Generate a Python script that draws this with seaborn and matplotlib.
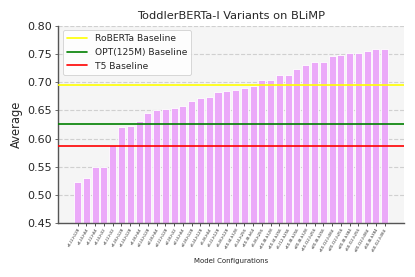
import matplotlib
matplotlib.use("Agg")
import matplotlib.pyplot as plt
import seaborn as sns
import pandas as pd

configs = [
    "e1-l2-h128", "e1-l4-h64", "e1-l2-h64", "e1-l4-h32", "e1-l2-h32", "e1-l8-h128",
    "e1-l4-h128", "e1-l8-h64", "e2-l4-h128", "e2-l8-h64", "e2-l2-h128", "e2-l8-h32",
    "e2-l4-h64", "e2-l8-h128", "e5-l4-h128", "e5-l8-h64", "e5-l2-h128", "e5-l8-h128",
    "e10-l4-h128", "e5-l4-h256", "e10-l8-h64", "e5-l8-h256", "e10-l8-h128", "e10-l4-h256",
    "e5-l12-h256", "e10-l8-h256", "e20-l8-h128", "e10-l12-h256", "e20-l8-h256", "e10-l12-h384",
    "e20-l12-h256", "e20-l8-h384", "e50-l12-h256", "e20-l12-h384", "e50-l8-h384", "e50-l12-h384",
]
averages = [
    0.523, 0.530, 0.549, 0.549, 0.589, 0.620,
    0.622, 0.631, 0.645, 0.650, 0.652, 0.654,
    0.657, 0.667, 0.672, 0.673, 0.683, 0.684,
    0.686, 0.690, 0.694, 0.704, 0.704, 0.712,
    0.713, 0.723, 0.730, 0.735, 0.736, 0.746,
    0.749, 0.752, 0.752, 0.755, 0.759, 0.759,
]
baseline_names = ["RoBERTa Baseline", "OPT(125M) Baseline", "T5 Baseline"]
baseline_values = [0.695, 0.6265, 0.5875]
baseline_colors = ["yellow", "green", "red"]

df = pd.DataFrame({"Model Configurations": configs, "Average": averages})

sns.set_style("whitegrid")
plt.rcParams["font.family"] = ["DejaVu Sans"]

fig = plt.figure(figsize=(4.15, 2.77), dpi=100)
ax = fig.add_axes([0.1405, 0.194, 0.833, 0.713])
ax.set_facecolor("#f5f5f5")

sns.barplot(data=df, x="Model Configurations", y="Average", color="#eba9f9",
            saturation=1, edgecolor="white", linewidth=0.6, width=0.8, ax=ax, zorder=2)

for name, val, col in zip(baseline_names, baseline_values, baseline_colors):
    ax.axhline(val, color=col, linewidth=1.2, label=name, zorder=3)

ax.set_ylim(0.45, 0.80)
ax.set_xlim(-2.2, len(configs) - 1 + 2.2)
ax.set_yticks([0.45, 0.50, 0.55, 0.60, 0.65, 0.70, 0.75, 0.80])
ax.yaxis.grid(True, linestyle="--", color="#d0d0d0", linewidth=0.8, zorder=0)
ax.xaxis.grid(False)
ax.set_axisbelow(True)

ax.tick_params(axis="y", labelsize=8, length=2.5, width=0.6, pad=2, left=True, color="#555555")
ax.tick_params(axis="x", labelsize=2.8, length=2, width=0.6, pad=1, bottom=True, color="#333333")
plt.setp(ax.get_xticklabels(), rotation=60, ha="right", rotation_mode="anchor")

for s in ["top", "right"]:
    ax.spines[s].set_visible(False)
for s in ["left", "bottom"]:
    ax.spines[s].set_color("#555555")
    ax.spines[s].set_linewidth(1.0)

ax.set_title("ToddlerBERTa-l Variants on BLiMP", fontsize=8.2, pad=5)
ax.set_ylabel("Average", fontsize=8.3, labelpad=3)
ax.set_xlabel("Model Configurations", fontsize=5, labelpad=4)

leg = ax.legend(loc="upper left", fontsize=6.6, frameon=True, framealpha=0.9,
                borderpad=0.45, handlelength=2.2, labelspacing=0.5, fancybox=True)
leg.get_frame().set_edgecolor("#cccccc")
leg.get_frame().set_linewidth(0.6)

fig.savefig("out.png", dpi=100)
